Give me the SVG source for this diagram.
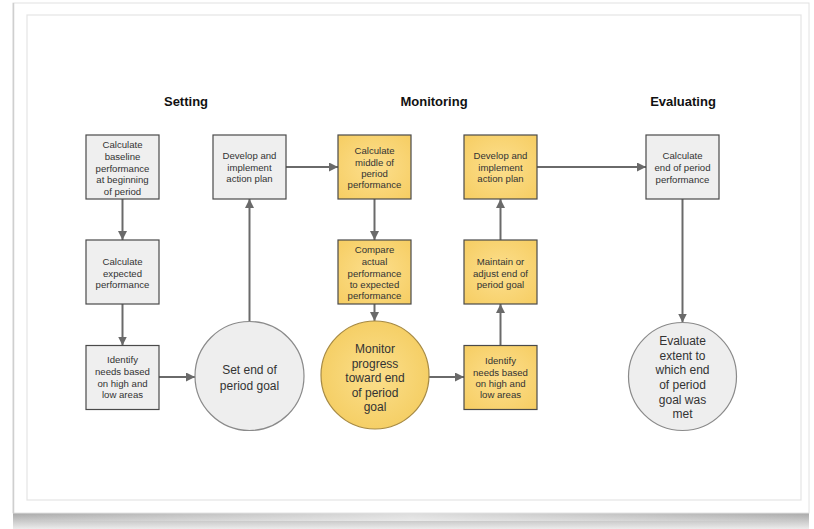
<svg xmlns="http://www.w3.org/2000/svg" width="814" height="529" viewBox="0 0 814 529">
<defs>
<style>
.box{stroke:#4a4a4a;stroke-width:1.2}
.gray{fill:#efefef}
.yel{fill:url(#yg)}
.circ{stroke:#8a8a8a;stroke-width:1.2}
.circy{stroke:#a68a45;stroke-width:1.2}
.t{font-family:"Liberation Sans",Arial,sans-serif;font-size:9.6px;fill:#333;text-anchor:middle}
.tb{font-family:"Liberation Sans",Arial,sans-serif;font-size:12px;fill:#333;text-anchor:middle}
.h{font-family:"Liberation Sans",Arial,sans-serif;font-size:13px;font-weight:bold;fill:#111;text-anchor:middle}
.c{stroke:#6a6a6a;stroke-width:2;fill:none;marker-end:url(#ah)}
</style>
<marker id="ah" markerUnits="userSpaceOnUse" markerWidth="9" markerHeight="9" refX="9" refY="4.5" orient="auto" viewBox="0 0 9 9">
<path d="M0,0 L9,4.5 L0,9 z" fill="#6a6a6a"/>
</marker>
<radialGradient id="yg" cx="50%" cy="50%" r="70%">
<stop offset="0" stop-color="#fcdf8e"/>
<stop offset="1" stop-color="#f6cd62"/>
</radialGradient>
<radialGradient id="ycg" cx="50%" cy="50%" r="50%">
<stop offset="0" stop-color="#fbdf8c"/>
<stop offset="1" stop-color="#f5cf66"/>
</radialGradient>
<linearGradient id="sh" x1="0" y1="0" x2="0" y2="1">
<stop offset="0" stop-color="#a8a8a8"/>
<stop offset="1" stop-color="#ececec"/>
</linearGradient>
<linearGradient id="edge" x1="0" y1="0" x2="1" y2="0">
<stop offset="0" stop-color="#ffffff" stop-opacity="0"/>
<stop offset="0.5" stop-color="#ffffff" stop-opacity="0.6"/>
<stop offset="1" stop-color="#ffffff" stop-opacity="0"/>
</linearGradient>
</defs>
<rect x="0" y="0" width="814" height="529" fill="#ffffff"/>
<g id="frame">
<rect x="13" y="513" width="796" height="16" fill="url(#sh)"/>
<rect x="13" y="513" width="796" height="8" fill="url(#edge)"/>
<rect x="13" y="3" width="796" height="510" fill="#ffffff" stroke="#e2e2e2" stroke-width="1"/>
<line x1="13.5" y1="3" x2="13.5" y2="513" stroke="#cfcfcf" stroke-width="1.5"/>
<rect x="27" y="15" width="774" height="485" fill="#ffffff" stroke="#e4e4e4" stroke-width="1.2"/>
</g>
<g id="headers">
<text class="h" x="186" y="106">Setting</text>
<text class="h" x="434" y="106">Monitoring</text>
<text class="h" x="683" y="106">Evaluating</text>
</g>
<g id="connectors">
<line class="c" x1="122.5" y1="199" x2="122.5" y2="240"/>
<line class="c" x1="122.5" y1="304" x2="122.5" y2="345.5"/>
<line class="c" x1="159" y1="377" x2="195" y2="377"/>
<line class="c" x1="249.5" y1="321.5" x2="249.5" y2="199"/>
<line class="c" x1="286" y1="167" x2="338" y2="167"/>
<line class="c" x1="374.5" y1="199" x2="374.5" y2="240"/>
<line class="c" x1="374.5" y1="304" x2="374.5" y2="321"/>
<line class="c" x1="429" y1="377" x2="464" y2="377"/>
<line class="c" x1="500.5" y1="345.5" x2="500.5" y2="304"/>
<line class="c" x1="500.5" y1="240" x2="500.5" y2="199"/>
<line class="c" x1="537" y1="167" x2="646" y2="167"/>
<line class="c" x1="682.5" y1="199" x2="682.5" y2="322.5"/>
</g>
<g id="n1">
<rect class="box gray" x="86" y="135" width="73" height="64"/>
<text class="t" x="122.5" y="148.4">Calculate</text>
<text class="t" x="122.5" y="160.1">baseline</text>
<text class="t" x="122.5" y="171.7">performance</text>
<text class="t" x="122.5" y="183.4">at beginning</text>
<text class="t" x="122.5" y="195.1">of period</text>
</g>
<g id="n2">
<rect class="box gray" x="86" y="240" width="73" height="64"/>
<text class="t" x="122.5" y="265.1">Calculate</text>
<text class="t" x="122.5" y="276.7">expected</text>
<text class="t" x="122.5" y="288.4">performance</text>
</g>
<g id="n3">
<rect class="box gray" x="86" y="345.5" width="73" height="64"/>
<text class="t" x="122.5" y="363.4">Identify</text>
<text class="t" x="122.5" y="375.1">needs based</text>
<text class="t" x="122.5" y="386.7">on high and</text>
<text class="t" x="122.5" y="398.4">low areas</text>
</g>
<g id="n4">
<circle class="circ" cx="249.5" cy="376" r="54.5" fill="#eeeeee"/>
<text class="tb" x="249.5" y="374.2">Set end of</text>
<text class="tb" x="249.5" y="389.9">period goal</text>
</g>
<g id="n5">
<rect class="box gray" x="213" y="135" width="73" height="64"/>
<text class="t" x="249.5" y="159.1">Develop and</text>
<text class="t" x="249.5" y="170.7">implement</text>
<text class="t" x="249.5" y="182.1">action plan</text>
</g>
<g id="n6">
<rect class="box yel" x="338" y="135" width="73" height="64"/>
<text class="t" x="374.5" y="154.1">Calculate</text>
<text class="t" x="374.5" y="165.7">middle of</text>
<text class="t" x="374.5" y="176.8">period</text>
<text class="t" x="374.5" y="187.8">performance</text>
</g>
<g id="n7">
<rect class="box yel" x="338" y="240" width="73" height="64"/>
<text class="t" x="374.5" y="253.4">Compare</text>
<text class="t" x="374.5" y="265.1">actual</text>
<text class="t" x="374.5" y="276.7">performance</text>
<text class="t" x="374.5" y="287.8">to expected</text>
<text class="t" x="374.5" y="299.1">performance</text>
</g>
<g id="n8">
<circle class="circy" cx="375" cy="375" r="54" fill="url(#ycg)"/>
<text class="tb" x="375" y="352.9">Monitor</text>
<text class="tb" x="375" y="367.5">progress</text>
<text class="tb" x="375" y="381.9">toward end</text>
<text class="tb" x="375" y="396.9">of period</text>
<text class="tb" x="375" y="410.9">goal</text>
</g>
<g id="n9">
<rect class="box yel" x="464" y="345.5" width="73" height="64"/>
<text class="t" x="500.5" y="364.1">Identify</text>
<text class="t" x="500.5" y="375.7">needs based</text>
<text class="t" x="500.5" y="387.4">on high and</text>
<text class="t" x="500.5" y="398.4">low areas</text>
</g>
<g id="n10">
<rect class="box yel" x="464" y="240" width="73" height="64"/>
<text class="t" x="500.5" y="265.1">Maintain or</text>
<text class="t" x="500.5" y="276.7">adjust end of</text>
<text class="t" x="500.5" y="287.7">period goal</text>
</g>
<g id="n11">
<rect class="box yel" x="464" y="135" width="73" height="64"/>
<text class="t" x="500.5" y="159.1">Develop and</text>
<text class="t" x="500.5" y="170.7">implement</text>
<text class="t" x="500.5" y="182.1">action plan</text>
</g>
<g id="n12">
<rect class="box gray" x="646" y="135" width="73" height="64"/>
<text class="t" x="682.5" y="159.1">Calculate</text>
<text class="t" x="682.5" y="171.1">end of period</text>
<text class="t" x="682.5" y="182.7">performance</text>
</g>
<g id="n13">
<circle class="circ" cx="682.5" cy="376.5" r="54" fill="#eeeeee"/>
<text class="tb" x="682.5" y="345.2">Evaluate</text>
<text class="tb" x="682.5" y="359.9">extent to</text>
<text class="tb" x="682.5" y="374.2">which end</text>
<text class="tb" x="682.5" y="389.2">of period</text>
<text class="tb" x="682.5" y="403.5">goal was</text>
<text class="tb" x="682.5" y="417.5">met</text>
</g>
</svg>
